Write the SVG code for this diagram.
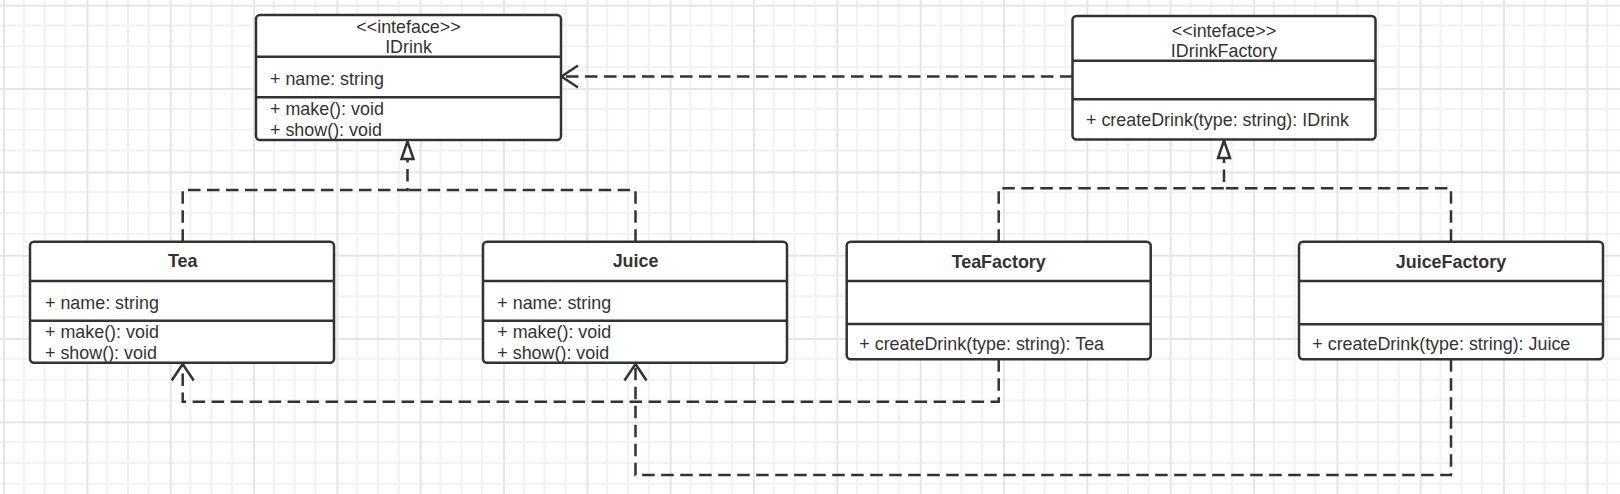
<svg xmlns="http://www.w3.org/2000/svg" width="1620" height="494" viewBox="0 0 1620 494">
<style>
.box{fill:#fff;stroke:#333;stroke-width:2.5}
.div{stroke:#333;stroke-width:2.5;fill:none}
.t{font-family:"Liberation Sans",Arial,Helvetica,sans-serif;font-size:17.9px;fill:#333}
.c{text-anchor:middle}
.b{font-weight:bold}
.edge{fill:none;stroke:#333;stroke-width:2.5;stroke-dasharray:12.5 6.5}
</style>
<defs>
<pattern id="grid" x="3" y="4.7" width="83.333" height="83.333" patternUnits="userSpaceOnUse">
<rect x="0" y="0" width="83.333" height="83.333" fill="#fff"/>
<rect x="20.1" y="0" width="1.5" height="83.333" fill="#f0f0f0"/>
<rect x="40.9" y="0" width="1.5" height="83.333" fill="#f0f0f0"/>
<rect x="61.7" y="0" width="1.5" height="83.333" fill="#f0f0f0"/>
<rect x="0" y="20.1" width="83.333" height="1.5" fill="#f0f0f0"/>
<rect x="0" y="40.9" width="83.333" height="1.5" fill="#f0f0f0"/>
<rect x="0" y="61.7" width="83.333" height="1.5" fill="#f0f0f0"/>
<rect x="0" y="0" width="2" height="83.333" fill="#e6e6e6"/>
<rect x="0" y="0" width="83.333" height="2" fill="#e6e6e6"/>
</pattern>
<marker id="open" markerUnits="userSpaceOnUse" orient="auto" refX="0" refY="0" viewBox="-20 -14 24 28" markerWidth="24" markerHeight="28" overflow="visible">
<path d="M-16.5,-11 L0,0 L-16.5,11" fill="none" stroke="#333" stroke-width="2.5" stroke-dasharray="none"/>
</marker>
<marker id="tri" markerUnits="userSpaceOnUse" orient="auto" refX="0" refY="0" viewBox="-20 -10 24 20" markerWidth="24" markerHeight="20" overflow="visible">
<path d="M0,0 L-17.5,-6 L-17.5,6 Z" fill="#fff" stroke="#333" stroke-width="2.5" stroke-dasharray="none" stroke-linejoin="miter"/>
</marker>
</defs>
<rect x="0" y="0" width="1620" height="494" fill="url(#grid)"/>

<g id="connectors">
<path class="edge" d="M1072.5,76.5 H561.5" marker-end="url(#open)"/>
<path class="edge" d="M635.5,241.7 V190 H407.5"/>
<path class="edge" d="M182.7,241.7 V190 H407.5 V141.5" marker-end="url(#tri)"/>
<path class="edge" d="M1451,241.7 V188.3 H1224"/>
<path class="edge" d="M998.7,241.7 V188.3 H1224 V140.5" marker-end="url(#tri)"/>
<path class="edge" d="M998.7,359.3 V401.7 H182.7 V364" marker-end="url(#open)"/>
<path class="edge" d="M1451,359.3 V475 H635.5 V364" marker-end="url(#open)"/>
</g>

<g id="IDrink">
<rect class="box" x="256" y="15" width="305" height="125" rx="4"/>
<path class="div" d="M256,56.7 H561 M256,97.3 H561"/>
<text class="t c" x="408.5" y="32.8">&lt;&lt;inteface&gt;&gt;</text>
<text class="t c" x="408.5" y="52.8">IDrink</text>
<text class="t" x="270" y="85.2">+ name: string</text>
<text class="t" x="270" y="115.2">+ make(): void</text>
<text class="t" x="270" y="136.2">+ show(): void</text>
</g>

<g id="IDrinkFactory">
<rect class="box" x="1072.5" y="16" width="303" height="123.5" rx="4"/>
<path class="div" d="M1072.5,60.7 H1375.5 M1072.5,99.3 H1375.5"/>
<text class="t c" x="1224" y="36.8">&lt;&lt;inteface&gt;&gt;</text>
<text class="t c" x="1224" y="56.8">IDrinkFactory</text>
<text class="t" x="1086" y="125.5">+ createDrink(type: string): IDrink</text>
</g>

<g id="Tea">
<rect class="box" x="30" y="241.7" width="304" height="121" rx="4"/>
<path class="div" d="M30,281 H334 M30,320.7 H334"/>
<text class="t c b" x="182.7" y="266.9">Tea</text>
<text class="t" x="45" y="308.9">+ name: string</text>
<text class="t" x="45" y="337.9">+ make(): void</text>
<text class="t" x="45" y="358.9">+ show(): void</text>
</g>

<g id="Juice">
<rect class="box" x="483" y="241.7" width="304" height="121" rx="4"/>
<path class="div" d="M483,281 H787 M483,320.7 H787"/>
<text class="t c b" x="635.5" y="266.9">Juice</text>
<text class="t" x="497.3" y="308.9">+ name: string</text>
<text class="t" x="497.3" y="337.9">+ make(): void</text>
<text class="t" x="497.3" y="358.9">+ show(): void</text>
</g>

<g id="TeaFactory">
<rect class="box" x="846.7" y="241.7" width="304" height="117.6" rx="4"/>
<path class="div" d="M846.7,281 H1150.7 M846.7,324 H1150.7"/>
<text class="t c b" x="998.7" y="267.9">TeaFactory</text>
<text class="t" x="859.3" y="350.2">+ createDrink(type: string): Tea</text>
</g>

<g id="JuiceFactory">
<rect class="box" x="1299" y="241.7" width="304" height="117.6" rx="4"/>
<path class="div" d="M1299,281 H1603 M1299,324.3 H1603"/>
<text class="t c b" x="1451" y="267.9">JuiceFactory</text>
<text class="t" x="1312.3" y="350.2">+ createDrink(type: string): Juice</text>
</g>
</svg>
